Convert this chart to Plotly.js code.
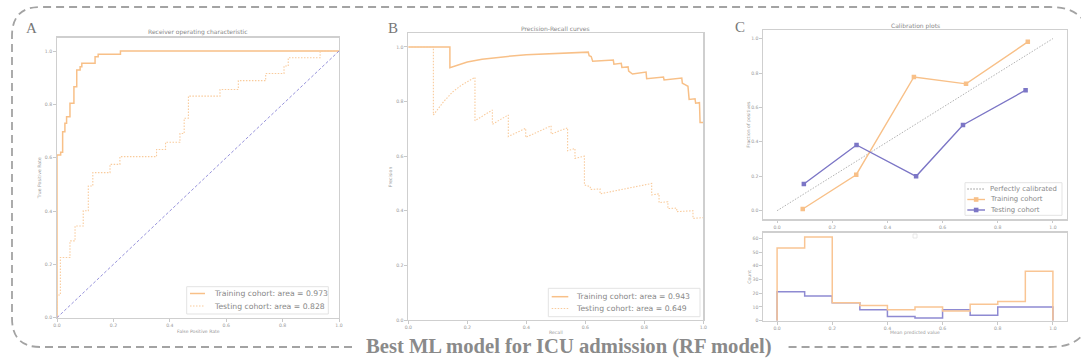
<!DOCTYPE html>
<html><head><meta charset="utf-8">
<script src="https://cdn.plot.ly/plotly-3.0.1.min.js"></script>
<style>html,body{margin:0;padding:0;background:#fff}#chart{width:1081px;height:362px}</style>
</head><body><div id="chart"></div>
<script>
// ---------- DATA ----------
// A: ROC curves
const rocTrainFpr = [0, 0, 0.013, 0.013, 0.02, 0.02, 0.028, 0.028, 0.034, 0.034, 0.046, 0.046, 0.06, 0.06, 0.07, 0.07, 0.082, 0.082, 0.088, 0.088, 0.135, 0.135, 0.146, 0.146, 0.225, 0.225, 1.0];
const rocTrainTpr = [0, 0.61, 0.61, 0.62, 0.62, 0.697, 0.697, 0.729, 0.729, 0.754, 0.754, 0.804, 0.804, 0.866, 0.866, 0.929, 0.929, 0.941, 0.941, 0.954, 0.954, 0.979, 0.979, 0.988, 0.988, 1.0, 1.0];
const rocTestFpr = [0, 0, 0.012, 0.012, 0.046, 0.046, 0.064, 0.064, 0.093, 0.093, 0.111, 0.111, 0.127, 0.127, 0.188, 0.188, 0.223, 0.223, 0.353, 0.353, 0.385, 0.385, 0.436, 0.436, 0.451, 0.451, 0.466, 0.466, 0.578, 0.578, 0.643, 0.643, 0.740, 0.740, 0.805, 0.805, 0.820, 0.820, 0.933, 0.933, 1.0];
const rocTestTpr = [0, 0.085, 0.085, 0.226, 0.226, 0.288, 0.288, 0.344, 0.344, 0.401, 0.401, 0.494, 0.494, 0.544, 0.544, 0.575, 0.575, 0.604, 0.604, 0.631, 0.631, 0.658, 0.658, 0.691, 0.691, 0.748, 0.748, 0.831, 0.831, 0.856, 0.856, 0.889, 0.889, 0.916, 0.916, 0.944, 0.944, 0.975, 0.975, 1.0, 1.0];
const chanceX = [0, 1];
const chanceY = [0, 1];
const rocTrainLabel = 'Training cohort: area = 0.973';
const rocTestLabel = 'Testing cohort: area = 0.828';

// B: Precision-Recall curves
const prTrainRecall = [0, 0.141, 0.141, 0.2, 0.25, 0.3, 0.35, 0.4, 0.45, 0.5, 0.55, 0.61, 0.613, 0.62, 0.625, 0.695, 0.697, 0.722, 0.724, 0.745, 0.747, 0.76, 0.806, 0.808, 0.865, 0.867, 0.927, 0.929, 0.938, 0.948, 0.952, 0.972, 0.974, 0.987, 0.989, 1.0];
const prTrainPrecision = [1, 1, 0.924, 0.945, 0.955, 0.962, 0.967, 0.971, 0.974, 0.977, 0.979, 0.981, 0.968, 0.965, 0.948, 0.952, 0.937, 0.94, 0.925, 0.927, 0.912, 0.901, 0.908, 0.884, 0.89, 0.879, 0.886, 0.867, 0.862, 0.856, 0.808, 0.81, 0.794, 0.796, 0.723, 0.723];
const prTestRecall = [0, 0.085, 0.085, 0.12, 0.15, 0.18, 0.226, 0.226, 0.285, 0.285, 0.339, 0.339, 0.398, 0.398, 0.484, 0.484, 0.54, 0.54, 0.565, 0.565, 0.597, 0.597, 0.617, 0.617, 0.65, 0.65, 0.825, 0.825, 0.85, 0.85, 0.88, 0.88, 0.91, 0.91, 0.965, 0.965, 1.0];
const prTestPrecision = [1, 1, 0.751, 0.8, 0.835, 0.86, 0.889, 0.730, 0.769, 0.717, 0.751, 0.672, 0.702, 0.669, 0.711, 0.681, 0.704, 0.62, 0.628, 0.592, 0.60, 0.495, 0.488, 0.478, 0.48, 0.462, 0.5, 0.458, 0.462, 0.43, 0.433, 0.408, 0.41, 0.397, 0.4, 0.372, 0.375];
const prTrainLabel = 'Training cohort: area = 0.943';
const prTestLabel = 'Testing cohort: area = 0.649';

// C: Calibration plots
const calTrainX = [0.093, 0.287, 0.496, 0.685, 0.909];
const calTrainY = [0.01, 0.209, 0.777, 0.737, 0.981];
const calTestX = [0.097, 0.288, 0.504, 0.674, 0.901];
const calTestY = [0.155, 0.382, 0.2, 0.498, 0.70];
const calPerfectLabel = 'Perfectly calibrated';
const calTrainLabel = 'Training cohort';
const calTestLabel = 'Testing cohort';
const binEdges = [0, 0.1, 0.2, 0.3, 0.4, 0.5, 0.6, 0.7, 0.8, 0.9, 1.0];
const histTrain = [53, 61, 13, 11, 8, 10, 7, 12, 14, 36];
const histTest = [21, 18, 13, 8, 3, 2, 8, 4, 10, 10];

// ticks
const unitTicks = [0, 0.2, 0.4, 0.6, 0.8, 1.0];
const unitTickText = ['0.0', '0.2', '0.4', '0.6', '0.8', '1.0'];
const countTicks = [0, 10, 20, 30, 40, 50, 60];

// ---------- STYLE / LAYOUT ----------
const W = 1081, H = 362;
const px = x => x / W;
const py = y => 1 - y / H;
const ORANGE = '#F8C088';
const ORANGE_LIGHT = '#F9CB9C';
const PURPLE = '#7C76C6';
const FONT = 'DejaVu Sans';
const DOTS = '1.5px,1.5px';

function stepXY(edges, counts) {
  const x = [edges[0]], y = [0];
  for (let i = 0; i < counts.length; i++) { x.push(edges[i]); y.push(counts[i]); }
  x.push(edges[edges.length - 1]); y.push(counts[counts.length - 1]);
  x.push(edges[edges.length - 1]); y.push(0);
  return {x, y};
}

function axis(dom, range, tickvals, ticktext, anchor) {
  return {
    domain: dom, range: range, anchor: anchor, autorange: false,
    tickmode: 'array', tickvals: tickvals, ticktext: ticktext,
    ticks: 'outside', ticklen: 2.5, tickwidth: 0.8, tickcolor: '#bbb',
    tickfont: {family: FONT, size: 4.6, color: '#999'},
    showline: true, mirror: true, linecolor: '#cfcfcf', linewidth: 1.4,
    showgrid: false, zeroline: false, fixedrange: true
  };
}

const hTrain = stepXY(binEdges, histTrain);
const hTest = stepXY(binEdges, histTest);

const traces = [
  // A
  {x: rocTrainFpr, y: rocTrainTpr, xaxis: 'x', yaxis: 'y', mode: 'lines', name: rocTrainLabel,
   line: {color: ORANGE, width: 1.5}},
  {x: rocTestFpr, y: rocTestTpr, xaxis: 'x', yaxis: 'y', mode: 'lines', name: rocTestLabel,
   line: {color: ORANGE_LIGHT, width: 1.1, dash: DOTS}},
  {x: chanceX, y: chanceY, xaxis: 'x', yaxis: 'y', mode: 'lines', name: 'chance',
   line: {color: '#8a86d6', width: 0.9, dash: '3px,2px'}},
  // B
  {x: prTrainRecall, y: prTrainPrecision, xaxis: 'x2', yaxis: 'y2', mode: 'lines', name: prTrainLabel,
   line: {color: ORANGE, width: 1.5}},
  {x: prTestRecall, y: prTestPrecision, xaxis: 'x2', yaxis: 'y2', mode: 'lines', name: prTestLabel,
   line: {color: ORANGE_LIGHT, width: 1.1, dash: DOTS}},
  // C top
  {x: chanceX, y: chanceY, xaxis: 'x3', yaxis: 'y3', mode: 'lines', name: calPerfectLabel,
   line: {color: '#a8a8a8', width: 0.9, dash: DOTS}},
  {x: calTrainX, y: calTrainY, xaxis: 'x3', yaxis: 'y3', mode: 'lines+markers', name: calTrainLabel,
   line: {color: ORANGE, width: 1.4}, marker: {symbol: 'square', size: 4.5, color: ORANGE}},
  {x: calTestX, y: calTestY, xaxis: 'x3', yaxis: 'y3', mode: 'lines+markers', name: calTestLabel,
   line: {color: PURPLE, width: 1.4}, marker: {symbol: 'square', size: 4.5, color: PURPLE}},
  // C bottom (step histograms)
  {x: hTest.x, y: hTest.y, xaxis: 'x4', yaxis: 'y4', mode: 'lines', name: 'test hist',
   line: {color: '#8e8ad2', width: 1.5, shape: 'hv'}},
  {x: hTrain.x, y: hTrain.y, xaxis: 'x4', yaxis: 'y4', mode: 'lines', name: 'train hist',
   line: {color: '#F9C594', width: 1.5, shape: 'hv'}}
];

function ann(text, x, y, size, extra) {
  return Object.assign({text: text, x: px(x), y: py(y), xref: 'paper', yref: 'paper',
    showarrow: false, xanchor: 'center', yanchor: 'middle',
    font: {family: FONT, size: size, color: '#888'}}, extra || {});
}

const shapes = [];
const annotations = [];

// compact legends (matplotlib style)
function legend(box, sx0, sx1, tx, fontSize, rows) {
  shapes.push({type: 'rect', xref: 'paper', yref: 'paper', x0: px(box[0]), x1: px(box[1]), y0: py(box[3]), y1: py(box[2]),
    line: {color: '#e3e3e3', width: 1}, fillcolor: 'rgba(255,255,255,0.85)', layer: 'above'});
  rows.forEach(r => {
    shapes.push({type: 'line', xref: 'paper', yref: 'paper', x0: px(sx0), x1: px(sx1), y0: py(r.y), y1: py(r.y),
      line: {color: r.color, width: r.width, dash: r.dash || 'solid'}, layer: 'above'});
    if (r.marker) {
      const c = (sx0 + sx1) / 2;
      shapes.push({type: 'rect', xref: 'paper', yref: 'paper', x0: px(c - 2.3), x1: px(c + 2.3), y0: py(r.y + 2.3), y1: py(r.y - 2.3),
        line: {width: 0}, fillcolor: r.color, layer: 'above'});
    }
    annotations.push(ann(r.label, tx, r.y, fontSize, {xanchor: 'left', font: {family: FONT, size: fontSize, color: '#888'}}));
  });
}
legend([186.7, 328.3, 286.7, 314], 190, 205, 211.5, 7.7, [
  {y: 293.5, label: rocTrainLabel, color: ORANGE, width: 1.5},
  {y: 306, label: rocTestLabel, color: ORANGE_LIGHT, width: 1.1, dash: DOTS}
]);
legend([548.3, 700, 288.3, 316.7], 551.7, 568.3, 573.5, 7.7, [
  {y: 296.7, label: prTrainLabel, color: ORANGE, width: 1.5},
  {y: 308.5, label: prTestLabel, color: ORANGE_LIGHT, width: 1.1, dash: DOTS}
]);
legend([965, 1062, 182.7, 215.3], 967.3, 985, 988, 6.9, [
  {y: 189, label: calPerfectLabel, color: '#888', width: 0.9, dash: DOTS},
  {y: 199.5, label: calTrainLabel, color: ORANGE, width: 1.4, marker: true},
  {y: 210, label: calTestLabel, color: PURPLE, width: 1.4, marker: true}
]);
// empty legend box in histogram panel
shapes.push({type: 'rect', xref: 'paper', yref: 'paper', x0: px(913), x1: px(917), y0: py(238), y1: py(234),
  line: {color: '#e2e2e2', width: 0.8}, fillcolor: 'rgba(255,255,255,0)'});

// dashed rounded frame
function borderPath() {
  const pts = (x, y) => px(x) + ',' + py(y);
  return 'M' + pts(352, 347) + ' L' + pts(40, 347) + ' Q' + pts(12, 347) + ' ' + pts(12, 318) +
    ' L' + pts(12, 36) + ' Q' + pts(12, 7) + ' ' + pts(40, 7) +
    ' L' + pts(1050, 7) + ' Q' + pts(1090, 7) + ' ' + pts(1090, 45) +
    ' L' + pts(1090, 310) + ' Q' + pts(1090, 347) + ' ' + pts(1050, 347) +
    ' L' + pts(788, 347);
}
shapes.push({type: 'path', xref: 'paper', yref: 'paper', path: borderPath(),
  line: {color: '#a3a3a3', width: 1.8, dash: '8px,5px'}});

const titleFont = {family: FONT, size: 6.0, color: '#888'};
const axFont = {family: FONT, size: 4.6, color: '#999'};
annotations.push(
  ann('Receiver operating characteristic', 198, 32, 6, {font: titleFont}),
  ann('Precision-Recall curves', 555.7, 28, 6, {font: titleFont}),
  ann('Calibration plots', 915, 26, 6, {font: titleFont}),
  ann('False Positive Rate', 198, 331, 4.6, {font: axFont}),
  ann('True Positive Rate', 39.5, 177.7, 4.6, {font: axFont, textangle: -90}),
  ann('Recall', 555.8, 332.5, 4.6, {font: axFont}),
  ann('Precision', 390.5, 176.7, 4.6, {font: axFont, textangle: -90}),
  ann('Fraction of positives', 749, 124.7, 4.6, {font: axFont, textangle: -90}),
  ann('Mean predicted value', 915, 332.5, 4.6, {font: axFont}),
  ann('Count', 750, 276.7, 4.6, {font: axFont, textangle: -90}),
  ann('A', 31, 28, 15, {font: {family: 'Liberation Serif', size: 15, color: '#777'}}),
  ann('B', 393, 28, 15, {font: {family: 'Liberation Serif', size: 15, color: '#777'}}),
  ann('C', 740, 27, 15, {font: {family: 'Liberation Serif', size: 15, color: '#777'}}),
  ann('<b>Best ML model for ICU admission (RF model)</b>', 568.5, 346, 20.6,
    {font: {family: 'Liberation Serif', size: 20.6, color: '#8a8a8a'}})
);

const layout = {
  width: W, height: H, margin: {l: 0, r: 0, t: 0, b: 0},
  paper_bgcolor: '#fff', plot_bgcolor: '#fff',
  showlegend: false,
  xaxis: axis([px(57), px(339)], [0, 1], unitTicks, unitTickText, 'y'),
  yaxis: axis([py(317.7), py(37.7)], [0, 1.05], unitTicks, unitTickText, 'x'),
  xaxis2: axis([px(408.3), px(703.3)], [0, 1], unitTicks, unitTickText, 'y2'),
  yaxis2: axis([py(320), py(33.3)], [0, 1.05], unitTicks, unitTickText, 'x2'),
  xaxis3: axis([px(763.3), px(1066.7)], [-0.05, 1.05], unitTicks, unitTickText, 'y3'),
  yaxis3: axis([py(219.3), py(30)], [-0.05, 1.05], unitTicks, unitTickText, 'x3'),
  xaxis4: axis([px(763.3), px(1066.7)], [-0.05, 1.05], unitTicks, unitTickText, 'y4'),
  yaxis4: axis([py(320.7), py(232.7)], [0, 64.05], countTicks, countTicks.map(String), 'x4'),
  annotations: annotations,
  shapes: shapes
};

Plotly.newPlot('chart', traces, layout, {staticPlot: true, displayModeBar: false});
</script>
</body></html>
